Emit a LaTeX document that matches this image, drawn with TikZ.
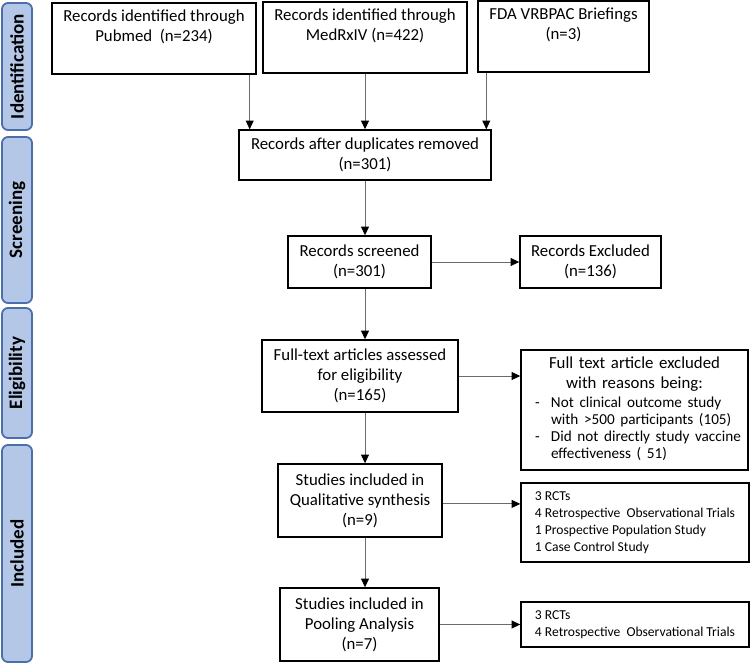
\documentclass[tikz,border=0pt]{standalone}
\usepackage{fontspec}
\setmainfont{Carlito}
\usepackage{tikz}
\usetikzlibrary{arrows.meta}
\usetikzlibrary{calc}
\usetikzlibrary{positioning}

\definecolor{fasebiru}{HTML}{B4C7E7}
\definecolor{garisbiru}{HTML}{4A6FAC}
\definecolor{garispanah}{HTML}{6B6B6B}

\begin{document}
\begin{tikzpicture}[x=0.5pt, y=-0.5pt,
	kotak/.style={draw=black, line width=0.7pt, inner sep=0pt, align=center, font=\fontsize{8.4}{10}\selectfont},
	fase/.style={draw=garisbiru, fill=fasebiru, line width=0.9pt, rounded corners=3pt, rotate=90, minimum height=15pt, inner sep=0pt, font=\bfseries\fontsize{9.5}{10}\selectfont},
	daftar/.style={kotak, minimum width=114pt, align=left, font=\fontsize{6.8}{8.5}\selectfont},
	panah/.style={draw=garispanah, line width=0.5pt, -{Triangle[length=4.4pt, width=4pt, black]}}]
	\useasboundingbox (0,0) rectangle (750,665);
	
	%% KOLOM FASE (KIRI) %%
	\node[fase, minimum width=63.5pt] (identifikasi) at (17,66.5) {Identification};
	\node[fase, minimum width=83pt] (skrining) at (17,220) {Screening};
	\node[fase, minimum width=65pt] (kelayakan) at (17,373) {Eligibility};
	\node[fase, minimum width=108.5pt] (inklusi) at (17,553.5) {Included};
	
	%% KOTAK SUMBER DATA %%
	\node[kotak, minimum width=102pt, minimum height=35.5pt] (pubmed) at (154,38.5) {Records identified through\\Pubmed\ \ (n=234)\\\strut};
	\node[kotak, minimum width=102pt, minimum height=35.5pt] (medrxiv) at (365,37.5) {Records identified through\\MedRxIV (n=422)\\\strut};
	\node[kotak, minimum width=85.5pt, minimum height=35.5pt] (fda) at (563.5,36.5) {FDA VRBPAC Briefings\\(n=3)\\\strut};
	
	%% ALUR UTAMA %%
	\node[kotak, minimum width=126pt, minimum height=25pt] (duplikat) at (365,155) {Records after duplicates removed\\(n=301)};
	\node[kotak, minimum width=71.5pt, minimum height=26pt] (skrin) at (359.5,262) {Records screened\\(n=301)};
	\node[kotak, minimum width=98pt, minimum height=36pt] (teks) at (360,376) {Full-text articles assessed\\for eligibility\\(n=165)};
	\node[kotak, minimum width=82pt, minimum height=36.5pt] (kualitatif) at (360,500.5) {Studies included in\\Qualitative synthesis\\(n=9)};
	\node[kotak, minimum width=79.5pt, minimum height=36.5pt] (pooling) at (359.5,624.5) {Studies included in\\Pooling Analysis\\(n=7)};
	
	%% KOTAK KANAN %%
	\node[kotak, minimum width=70.5pt, minimum height=26pt] (eksklusi) at (590.5,262) {Records Excluded\\(n=136)};
	\node[kotak, minimum width=113.5pt, minimum height=60pt, text width=113.5pt] (alasan) at (634.5,410) {Full text article excluded\\with reasons being:\\[1pt]
		{\fontsize{7.6}{8.5}\selectfont\begin{tabular}{@{\hspace{7pt}}p{8pt}@{}p{98.5pt}@{}}
			- & Not clinical outcome study\\
			  & with >500 participants (105)\\
			- & Did not directly study vaccine\\
			  & effectiveness ( 51)
		\end{tabular}}};
	\node[daftar, minimum height=39.5pt] (hasil9) at (635,522.5) {3 RCTs\\4 Retrospective\ \ Observational Trials\\1 Prospective Population Study\\1 Case Control Study};
	\node[daftar, minimum height=22.5pt] (hasil7) at (635,624.5) {3 RCTs\\4 Retrospective\ \ Observational Trials};
	
	%% PANAH %%
	% Titik awal panah dari kotak sumber
	\coordinate (pA) at ($(pubmed.south east)+(-7,0)$);
	\coordinate (pC) at ($(fda.south west)+(9,0)$);
	\draw[panah] (pA) -- (pA |- duplikat.north);
	\draw[panah] (medrxiv.south) -- (medrxiv.south |- duplikat.north);
	\draw[panah] (pC) -- (pC |- duplikat.north);
	
	% Panah ke bawah
	\draw[panah] (duplikat.south) -- (duplikat.south |- skrin.north);
	\draw[panah] (duplikat.south |- skrin.south) -- (duplikat.south |- teks.north);
	\draw[panah] (duplikat.south |- teks.south) -- (duplikat.south |- kualitatif.north);
	\draw[panah] (duplikat.south |- kualitatif.south) -- (duplikat.south |- pooling.north);
	
	% Panah ke kanan
	\draw[panah] (skrin.east) -- (skrin.east -| eksklusi.west);
	\draw[panah] (teks.east) -- (teks.east -| alasan.west);
	\draw[panah] ([yshift=-1.7pt]kualitatif.east) -- ([yshift=-1.7pt]kualitatif.east -| hasil9.west);
	\draw[panah] (pooling.east) -- (pooling.east -| hasil7.west);
\end{tikzpicture}
\end{document}
